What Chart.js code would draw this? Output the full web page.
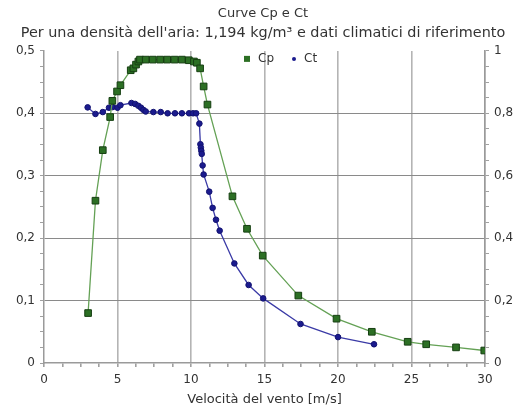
<!DOCTYPE html>
<html>
<head>
<meta charset="utf-8">
<script src="https://cdn.jsdelivr.net/npm/chart.js@4/dist/chart.umd.min.js"></script>
<style>
    html, body { margin: 0; padding: 0; background: #fff; }
    #wrap { width: 526px; height: 408px; }
</style>
</head>
<body>
<div id="wrap"><canvas id="cp-chart"></canvas></div>
<script>
// Chart data
const cpWind = [3.0, 3.5, 4.0, 4.5, 4.65, 4.97, 5.2, 5.9, 6.08, 6.26, 6.42, 6.53, 6.92, 7.4, 7.9, 8.38, 8.88, 9.38, 9.85, 10.2, 10.4, 10.62, 10.86, 11.12, 12.82, 13.81, 14.88, 17.3, 19.9, 22.3, 24.74, 26.0, 28.03, 29.95];
const cpValues = [0.08, 0.26, 0.341, 0.394, 0.42, 0.435, 0.445, 0.469, 0.472, 0.478, 0.483, 0.486, 0.486, 0.486, 0.486, 0.486, 0.486, 0.486, 0.485, 0.483, 0.481, 0.472, 0.443, 0.414, 0.267, 0.215, 0.172, 0.108, 0.071, 0.050, 0.034, 0.030, 0.025, 0.020];

const ctWind = [2.97, 3.5, 4.0, 4.42, 4.67, 5.0, 5.2, 5.95, 6.2, 6.42, 6.6, 6.76, 6.92, 7.44, 7.94, 8.41, 8.91, 9.38, 9.87, 10.14, 10.35, 10.57, 10.64, 10.67, 10.7, 10.73, 10.79, 10.86, 11.24, 11.47, 11.7, 11.95, 12.95, 13.92, 14.91, 17.45, 20.0, 22.45];
const ctValues = [0.819, 0.798, 0.804, 0.818, 0.82, 0.818, 0.826, 0.833, 0.83, 0.824, 0.818, 0.811, 0.806, 0.804, 0.804, 0.8, 0.8, 0.8, 0.8, 0.8, 0.8, 0.767, 0.701, 0.69, 0.68, 0.67, 0.633, 0.604, 0.549, 0.497, 0.459, 0.424, 0.319, 0.25, 0.207, 0.125, 0.083, 0.06];

const xMajorTicks = [0, 5, 10, 15, 20, 25, 30];
const cpMajorTicks = [0, 0.1, 0.2, 0.3, 0.4, 0.5];
const ctMajorTicks = [0, 0.2, 0.4, 0.6, 0.8, 1];

const textColor = '#333333';
const fontFamily = '"DejaVu Sans", Verdana, sans-serif';

// Helpers
function isMajor(value, list) {
    return list.some(t => Math.abs(t - value) < 1e-6);
}

function formatTick(value) {
    if (Math.abs(value) < 1e-6) return '0';
    if (Math.abs(value - 1) < 1e-6) return '1';
    return value.toFixed(1).replace('.', ',');
}

function toPoints(xs, ys) {
    return xs.map((x, i) => ({ x: x, y: ys[i] }));
}

// Small legend drawn inside the plot area, at the top
const innerLegend = {
    id: 'innerLegend',
    afterDraw(chart) {
        const c = chart.ctx;
        const area = chart.chartArea;
        let x = area.left + 200;
        const y = area.top + 8;

        c.save();
        c.font = '12px ' + fontFamily;
        c.textBaseline = 'middle';
        c.textAlign = 'left';

        chart.data.datasets.forEach(ds => {
            c.fillStyle = ds.pointBackgroundColor;
            c.strokeStyle = ds.pointBorderColor;
            c.lineWidth = 1;
            if (ds.pointStyle === 'rect') {
                c.fillRect(x, y - 3, 6, 6);
                x += 6;
            } else {
                c.beginPath();
                c.arc(x + 2, y, 2, 0, Math.PI * 2);
                c.fill();
                x += 4;
            }
            x += 8;
            c.fillStyle = textColor;
            c.fillText(ds.label, x, y);
            x += c.measureText(ds.label).width + 18;
        });
        c.restore();
    }
};

// Build chart
const ctx = document.getElementById('cp-chart').getContext('2d');

new Chart(ctx, {
    type: 'line',
    data: {
        datasets: [{
            label: 'Cp',
            data: toPoints(cpWind, cpValues),
            yAxisID: 'yCp',
            borderColor: '#64a155',
            borderWidth: 1.3,
            pointStyle: 'rect',
            pointRadius: 4.7,
            pointBackgroundColor: '#2c6f24',
            pointBorderColor: '#163f12',
            pointBorderWidth: 1,
            tension: 0
        }, {
            label: 'Ct',
            data: toPoints(ctWind, ctValues),
            yAxisID: 'yCt',
            borderColor: '#3a3aa6',
            borderWidth: 1.3,
            pointStyle: 'circle',
            pointRadius: 2.8,
            pointBackgroundColor: '#1b1b8e',
            pointBorderColor: '#121270',
            pointBorderWidth: 1,
            tension: 0
        }]
    },
    options: {
        responsive: true,
        maintainAspectRatio: false,
        animation: false,
        layout: { padding: { left: 0, right: 0, top: 0, bottom: 1 } },
        plugins: {
            title: {
                display: true,
                text: 'Curve Cp e Ct',
                color: textColor,
                font: { family: fontFamily, size: 13, weight: 'normal' },
                padding: { top: 6, bottom: 3 }
            },
            subtitle: {
                display: true,
                text: "Per una densità dell'aria: 1,194 kg/m³ e dati climatici di riferimento",
                color: textColor,
                font: { family: fontFamily, size: 14.4, weight: 'normal' },
                padding: { top: 0, bottom: 9 }
            },
            legend: { display: false },
            tooltip: { enabled: false }
        },
        scales: {
            x: {
                type: 'linear',
                min: 0,
                max: 30,
                afterFit: (scale) => { scale.height = 44; },
                ticks: {
                    stepSize: 1.25,
                    autoSkip: false,
                    maxRotation: 0,
                    color: textColor,
                    padding: 6,
                    font: { family: fontFamily, size: 12 },
                    callback: (v) => isMajor(v, xMajorTicks) ? String(v) : ''
                },
                grid: {
                    color: (c) => (c.tick && isMajor(c.tick.value, xMajorTicks) && c.tick.value > 0) ? '#b4b4b4' : 'transparent',
                    lineWidth: 1.6,
                    tickColor: '#a0a0a0',
                    tickLength: 4
                },
                border: { color: '#9a9a9a', width: 1.5 },
                title: {
                    display: true,
                    text: 'Velocità del vento [m/s]',
                    color: textColor,
                    font: { family: fontFamily, size: 13 },
                    padding: { top: 0, bottom: 0 }
                }
            },
            yCp: {
                type: 'linear',
                position: 'left',
                min: 0,
                max: 0.5,
                afterFit: (scale) => { scale.width = 44; },
                ticks: {
                    stepSize: 0.025,
                    autoSkip: false,
                    color: textColor,
                    padding: 5,
                    font: { family: fontFamily, size: 12 },
                    callback: (v) => isMajor(v, cpMajorTicks) ? formatTick(v) : ''
                },
                grid: {
                    color: (c) => (c.tick && isMajor(c.tick.value, cpMajorTicks) && c.tick.value > 0.01 && c.tick.value < 0.49) ? '#8a8a8a' : 'transparent',
                    lineWidth: 1,
                    tickColor: '#a0a0a0',
                    tickLength: 4
                },
                border: { color: '#9a9a9a', width: 1.5 }
            },
            yCt: {
                type: 'linear',
                position: 'right',
                min: 0,
                max: 1,
                afterFit: (scale) => { scale.width = 41; },
                ticks: {
                    stepSize: 0.05,
                    autoSkip: false,
                    color: textColor,
                    padding: 5,
                    font: { family: fontFamily, size: 12 },
                    callback: (v) => isMajor(v, ctMajorTicks) ? formatTick(v) : ''
                },
                grid: {
                    drawOnChartArea: false,
                    tickColor: '#a0a0a0',
                    tickLength: 4
                },
                border: { color: '#9a9a9a', width: 1.5 }
            }
        }
    },
    plugins: [innerLegend]
});
</script>
</body>
</html>
